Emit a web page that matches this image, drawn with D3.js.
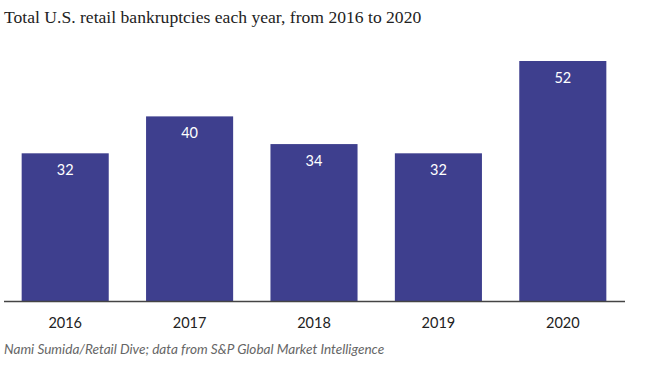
<!DOCTYPE html>
<html><head><meta charset="utf-8">
<script src="https://cdn.jsdelivr.net/npm/d3@7"></script>
<style>body{margin:0;background:#fff;} svg{display:block;}</style>
</head><body>
<svg id="c" width="650" height="366"></svg>
<script>
const years = ["2016","2017","2018","2019","2020"];
const bankruptcies = [32, 40, 34, 32, 52];
const titleText = "Total U.S. retail bankruptcies each year, from 2016 to 2020";
const sourceText = "Nami Sumida/Retail Dive; data from S&P Global Market Intelligence";

const svg = d3.select("#c");
const x = d3.scaleBand().domain(years).range([3, 625]).paddingInner(0.3).paddingOuter(0.15);
const y = d3.scaleLinear().domain([0, 52]).range([301, 61]);

svg.append("text").attr("x", 4).attr("y", 23)
  .attr("font-family", "Liberation Serif, serif").attr("font-size", 17.6)
  .attr("fill", "#222").text(titleText);

svg.selectAll("rect.bar").data(years).enter().append("rect")
  .attr("class","bar")
  .attr("x", d => x(d)).attr("width", x.bandwidth())
  .attr("y", (d,i) => y(bankruptcies[i]))
  .attr("height", (d,i) => y(0) - y(bankruptcies[i]))
  .attr("fill", "#3e3f8e");

svg.selectAll("text.val").data(years).enter().append("text")
  .attr("class","val")
  .attr("x", d => x(d) + x.bandwidth()/2)
  .attr("y", (d,i) => y(bankruptcies[i]) + 22)
  .attr("text-anchor","middle")
  .attr("font-family","Lato, sans-serif").attr("font-size", 14.5)
  .attr("fill","#fff").text((d,i) => bankruptcies[i]);

const ax = svg.append("g").attr("transform","translate(0,301)")
  .call(d3.axisBottom(x).tickSize(0).tickPadding(17));
ax.select(".domain").attr("stroke","#444").attr("stroke-width",1.5).attr("d","M4,0.5H625");
ax.selectAll("text").attr("font-family","Lato, sans-serif").attr("font-size",14.5).attr("fill","#222");

svg.append("text").attr("x", 4).attr("y", 354)
  .attr("font-family","Lato, sans-serif").attr("font-style","italic").attr("font-size",13.6)
  .attr("fill","#666").text(sourceText);
</script>
</body></html>
